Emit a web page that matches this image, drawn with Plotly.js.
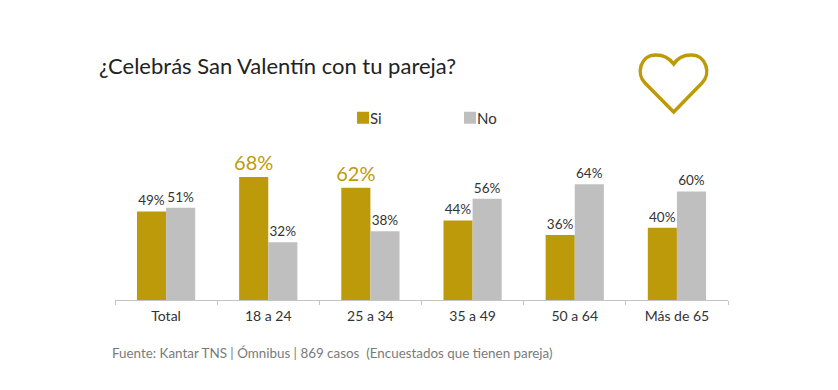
<!DOCTYPE html>
<html><head><meta charset="utf-8">
<script src="https://cdn.plot.ly/plotly-3.0.0.min.js"></script>
<style>html,body{margin:0;padding:0;background:#fff}</style></head>
<body><div id="chart" style="width:838px;height:390px"></div>
<script>
const categories = ["Total","18 a 24","25 a 34","35 a 49","50 a 64","Más de 65"];
const si = [49,68,62,44,36,40];
const no = [51,32,38,56,64,60];
const GOLD = "#bd9a09", GREY = "#bfbfbf", FONT = "Lato, 'Open Sans', sans-serif";
const W=838,H=390,L=115,R=728,T=130,B=300;
const px=x=>((x-L)/(R-L)).toFixed(4), py=y=>((B-y)/(B-T)).toFixed(4);
const P=(x,y)=>px(x)+","+py(y);
const heart="M"+P(673.7,112)+" L"+P(645,83)+" C"+P(636,74)+" "+P(640,55)+" "+P(656,55)+
 " C"+P(664,55)+" "+P(670,59)+" "+P(673.7,64)+" C"+P(677,59)+" "+P(683,55)+" "+P(691,55)+
 " C"+P(707,55)+" "+P(711,74)+" "+P(702,83)+" Z";
const lab=v=>v+"%";
const trace=(name,vals,color,hi)=>({type:"bar",name,x:categories,y:vals,
  marker:{color},text:vals.map(lab),textposition:"outside",cliponaxis:false,constraintext:"none",
  textfont:{family:FONT,size:vals.map(v=>hi&&v>60?20:13.5),color:vals.map(v=>hi&&v>60?GOLD:"#333333")}});
Plotly.newPlot("chart",[trace("Si",si,GOLD,true),trace("No",no,GREY,false)],{
  width:W,height:H,margin:{l:L,r:W-R,t:T,b:H-B},paper_bgcolor:"#fff",plot_bgcolor:"#fff",
  font:{family:FONT,color:"#333333",size:14},
  barmode:"group",bargap:0.43,bargroupgap:0,
  title:{text:"¿Celebrás San Valentín con tu pareja?",x:99/W,xanchor:"left",y:1-66/H,yanchor:"middle",font:{family:FONT,size:22,color:"#222222"}},
  xaxis:{type:"category",tickson:"boundaries",ticks:"outside",ticklen:4,tickcolor:"#c4c4c4",showline:true,linecolor:"#c4c4c4",linewidth:1,ticklabelstandoff:3,tickfont:{family:FONT,size:14,color:"#333333"},showgrid:false,fixedrange:true},
  yaxis:{range:[0,94],visible:false,showgrid:false,zeroline:false,fixedrange:true},
  showlegend:true,
  legend:{orientation:"h",x:(343-L)/(R-L),xanchor:"left",y:(B-118)/(B-T),yanchor:"middle",entrywidth:62,entrywidthmode:"pixels",font:{family:FONT,size:15,color:"#333333"},bgcolor:"rgba(0,0,0,0)",itemclick:false,itemdoubleclick:false},
  shapes:[{type:"path",xref:"paper",yref:"paper",path:heart,line:{color:GOLD,width:3.5},fillcolor:"rgba(0,0,0,0)"}],
  annotations:[{text:"Fuente: Kantar TNS | Ómnibus | 869 casos  (Encuestados que tienen pareja)",xref:"paper",yref:"paper",x:px(110),y:py(353),xanchor:"left",yanchor:"middle",showarrow:false,font:{family:FONT,size:13.4,color:"#7a7a7a"}}]
},{displayModeBar:false}).then(gd=>{
  gd.querySelectorAll(".legendtext").forEach(t=>{t.setAttribute("x",(+t.getAttribute("x"))-13);});
  gd.querySelectorAll(".legendbar path, .legendundefined path").forEach(p=>p.setAttribute("d","M5,5H-5V-5H5Z"));
});
</script></body></html>
